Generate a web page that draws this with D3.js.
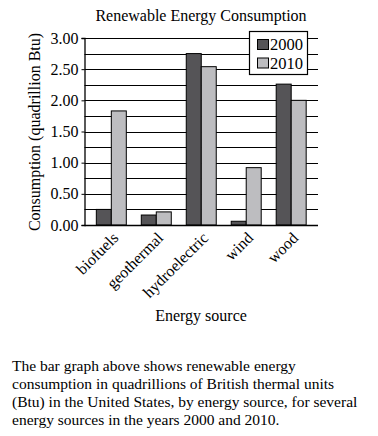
<!DOCTYPE html>
<html>
<head>
<meta charset="utf-8">
<script src="https://cdn.jsdelivr.net/npm/d3@7"></script>
<style>
html,body{margin:0;padding:0;background:#fff;}
svg{display:block;font-family:"Liberation Serif","Times New Roman",serif;}
svg text{font-family:"Liberation Serif","Times New Roman",serif;}
</style>
</head>
<body>
<svg id="chart" width="378" height="436"></svg>
<script>
const categories = ["biofuels","geothermal","hydroelectric","wind","wood"];
const series = ["2000","2010"];
const values2000 = [0.25, 0.16, 2.75, 0.06, 2.26];
const values2010 = [1.83, 0.21, 2.54, 0.92, 2.00];
const yTicks = [0, 0.5, 1.0, 1.5, 2.0, 2.5, 3.0];
const gridTicks = [0.25,0.5,0.75,1.0,1.25,1.5,1.75,2.0,2.25,2.5,2.75,3.0];
const title = "Renewable Energy Consumption";
const yTitle = "Consumption (quadrillion Btu)";
const xTitle = "Energy source";
const caption = [
  "The bar graph above shows renewable energy",
  "consumption in quadrillions of British thermal units",
  "(Btu) in the United States, by energy source, for several",
  "energy sources in the years 2000 and 2010."
];
const colors = {"2000":"#555457","2010":"#bdbdc0"};
const FONT = "Liberation Serif";

const svg = d3.select("#chart");
const mLeft = 84.5, mRight = 318, mTop = 38, mBottom = 225;

const x = d3.scaleBand().domain(categories).range([mLeft, mRight]).paddingInner(1/3).paddingOuter(0.263);
const xs = d3.scaleBand().domain(series).range([0, x.bandwidth()]);
const y = d3.scaleLinear().domain([0, 3]).range([mBottom, mTop]);

// gridlines
svg.append("g").selectAll("line").data(gridTicks).join("line")
  .attr("x1", mLeft).attr("x2", mRight)
  .attr("y1", d => Math.round(y(d))+0.5).attr("y2", d => Math.round(y(d))+0.5)
  .attr("stroke", "#000").attr("stroke-width", 1);

// bars
const data = [];
categories.forEach((c,i)=>{
  data.push({c, s:"2000", v:values2000[i]});
  data.push({c, s:"2010", v:values2010[i]});
});
svg.append("g").selectAll("rect").data(data).join("rect")
  .attr("x", d => x(d.c) + xs(d.s))
  .attr("y", d => y(d.v))
  .attr("width", xs.bandwidth())
  .attr("height", d => y(0) - y(d.v))
  .attr("fill", d => colors[d.s])
  .attr("stroke", "#000").attr("stroke-width", 1);

// y axis
const yAxis = d3.axisLeft(y).tickValues(yTicks).tickFormat(d3.format(".2f")).tickSize(3).tickPadding(3);
const ya = svg.append("g").attr("transform", `translate(${mLeft},0)`).call(yAxis)
  .attr("font-family", FONT).attr("font-size", 16);
ya.select(".domain").attr("stroke","#000").attr("stroke-width",1.3);
ya.selectAll("text").attr("fill","#000");
ya.selectAll(".tick line").attr("stroke","#000");

// x axis line
svg.append("line").attr("x1", mLeft).attr("x2", mRight)
  .attr("y1", mBottom+0.5).attr("y2", mBottom+0.5).attr("stroke","#000").attr("stroke-width",1.5);

// x labels
svg.append("g").attr("font-family", FONT).selectAll("text").data(categories).join("text")
  .attr("transform", d => `translate(${x(d)+x.bandwidth()/2+4},${mBottom+10}) rotate(-45)`)
  .attr("text-anchor","end").attr("dy","0.35em")
  .attr("font-size",16).attr("fill","#000")
  .text(d => d);

// legend
const lg = svg.append("g").attr("font-family", FONT);
lg.append("rect").attr("x",249.5).attr("y",31.5).attr("width",58).attr("height",43)
  .attr("fill","#fff").attr("stroke","#000").attr("stroke-width",1.2);
series.forEach((s,i)=>{
  lg.append("rect").attr("x",257.5).attr("y",39.5 + i*18.5).attr("width",11).attr("height",10)
    .attr("fill",colors[s]).attr("stroke","#000").attr("stroke-width",1);
  lg.append("text").attr("x",270).attr("y",50 + i*18.5).attr("font-family", FONT)
    .attr("font-size",16.5).attr("fill","#000").text(s);
});

// titles
svg.append("text").attr("x",201).attr("y",21).attr("text-anchor","middle").attr("font-family", FONT).attr("font-size",16).attr("fill","#000").text(title);
svg.append("text").attr("transform",`translate(40,132) rotate(-90)`).attr("text-anchor","middle").attr("font-family", FONT).attr("font-size",16).attr("fill","#000").text(yTitle);
svg.append("text").attr("x",201).attr("y",321).attr("text-anchor","middle").attr("font-family", FONT).attr("font-size",16).attr("fill","#000").text(xTitle);

// caption
svg.append("g").attr("font-family", FONT).selectAll("text").data(caption).join("text")
  .attr("x",12).attr("y",(d,i)=>371 + i*18)
  .attr("font-size",15.5).attr("fill","#000").text(d=>d);
</script>
</body>
</html>
